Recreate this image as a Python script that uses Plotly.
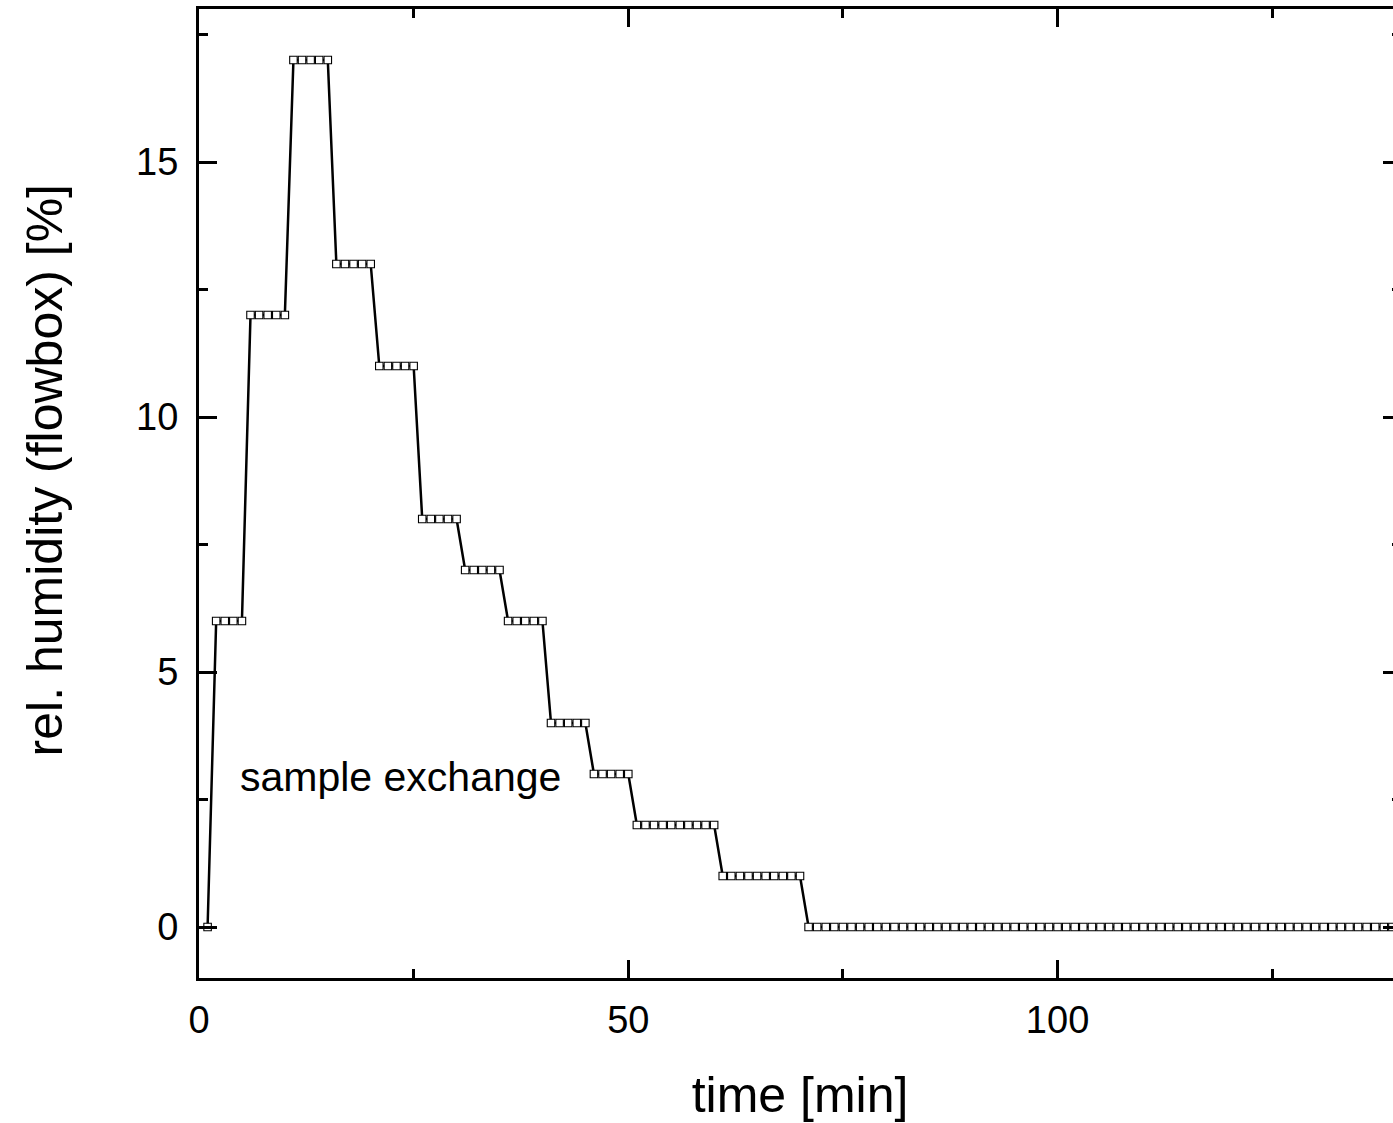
import plotly.graph_objects as go

# ---- data ----
time_min = [
    1, 2, 3, 4, 5, 6, 7, 8, 9, 10,
    11, 12, 13, 14, 15, 16, 17, 18, 19, 20,
    21, 22, 23, 24, 25, 26, 27, 28, 29, 30,
    31, 32, 33, 34, 35, 36, 37, 38, 39, 40,
    41, 42, 43, 44, 45, 46, 47, 48, 49, 50,
    51, 52, 53, 54, 55, 56, 57, 58, 59, 60,
    61, 62, 63, 64, 65, 66, 67, 68, 69, 70,
    71, 72, 73, 74, 75, 76, 77, 78, 79, 80,
    81, 82, 83, 84, 85, 86, 87, 88, 89, 90,
    91, 92, 93, 94, 95, 96, 97, 98, 99, 100,
    101, 102, 103, 104, 105, 106, 107, 108, 109, 110,
    111, 112, 113, 114, 115, 116, 117, 118, 119, 120,
    121, 122, 123, 124, 125, 126, 127, 128, 129, 130,
    131, 132, 133, 134, 135, 136, 137, 138, 139, 140,
]
rel_humidity = [
    0, 6, 6, 6, 6, 12, 12, 12, 12, 12,
    17, 17, 17, 17, 17, 13, 13, 13, 13, 13,
    11, 11, 11, 11, 11, 8, 8, 8, 8, 8,
    7, 7, 7, 7, 7, 6, 6, 6, 6, 6,
    4, 4, 4, 4, 4, 3, 3, 3, 3, 3,
    2, 2, 2, 2, 2, 2, 2, 2, 2, 2,
    1, 1, 1, 1, 1, 1, 1, 1, 1, 1,
    0, 0, 0, 0, 0, 0, 0, 0, 0, 0,
    0, 0, 0, 0, 0, 0, 0, 0, 0, 0,
    0, 0, 0, 0, 0, 0, 0, 0, 0, 0,
    0, 0, 0, 0, 0, 0, 0, 0, 0, 0,
    0, 0, 0, 0, 0, 0, 0, 0, 0, 0,
    0, 0, 0, 0, 0, 0, 0, 0, 0, 0,
    0, 0, 0, 0, 0, 0, 0, 0, 0, 0,
]
x_ticks = [0, 50, 100]
y_ticks = [0, 5, 10, 15]
x_title = "time [min]"
y_title = "rel. humidity (flowbox) [%]"
note_text = "sample exchange"

FONT = "Liberation Sans, Arial, Helvetica, sans-serif"

fig = go.Figure()
fig.add_trace(go.Scatter(
    x=time_min, y=rel_humidity, mode="lines+markers",
    line=dict(color="black", width=2.5),
    marker=dict(symbol="square", size=7.5, color="white",
                line=dict(color="black", width=1.1)),
    showlegend=False, hoverinfo="skip",
))

axis_common = dict(
    ticks="inside", ticklen=18, tickwidth=2.5, tickcolor="black",
    showline=True, linewidth=3, linecolor="black", mirror="ticks",
    showgrid=False, zeroline=False,
    tickfont=dict(size=38, color="black", family=FONT),
)

fig.update_xaxes(
    range=[0, 140], tickmode="array", tickvals=x_ticks,
    minor=dict(tick0=0, dtick=25, ticks="inside", ticklen=9, tickwidth=2.5,
               tickcolor="black", showgrid=False),
    ticklabelstandoff=6,
    title=dict(text=x_title, font=dict(size=50, color="black", family=FONT), standoff=38),
    **axis_common,
)
fig.update_yaxes(
    range=[-1, 18], tickmode="array", tickvals=y_ticks,
    minor=dict(tick0=0, dtick=2.5, ticks="inside", ticklen=9, tickwidth=2.5,
               tickcolor="black", showgrid=False),
    ticklabelstandoff=10,
    **axis_common,
)

fig.add_annotation(
    x=4.6, y=2.95, xref="x", yref="y", text=note_text, showarrow=False,
    xanchor="left", yanchor="middle",
    font=dict(size=41, color="black", family=FONT),
)
fig.add_annotation(
    x=0, y=0, xref="paper", yref="paper", text=y_title, showarrow=False,
    textangle=-90, xanchor="center", yanchor="middle",
    font=dict(size=50, color="black", family=FONT),
)

fig.update_layout(
    width=1410, height=1123,
    margin=dict(l=199, r=6, t=9, b=145),
    paper_bgcolor="white", plot_bgcolor="white",
    font=dict(family=FONT, color="black"),
)

# place the y-title annotation by converting pixel position to paper coordinates
plot_w = 1410 - 199 - 6
plot_h = 1123 - 9 - 145
ann = fig.layout.annotations[1]
ann.x = (45 - 199) / plot_w
ann.y = (1123 - 145 - 470) / plot_h

fig.write_html(
    "out.html",
    config={"displayModeBar": False},
    post_script="document.body.style.margin='0';document.body.style.overflow='hidden';",
)
